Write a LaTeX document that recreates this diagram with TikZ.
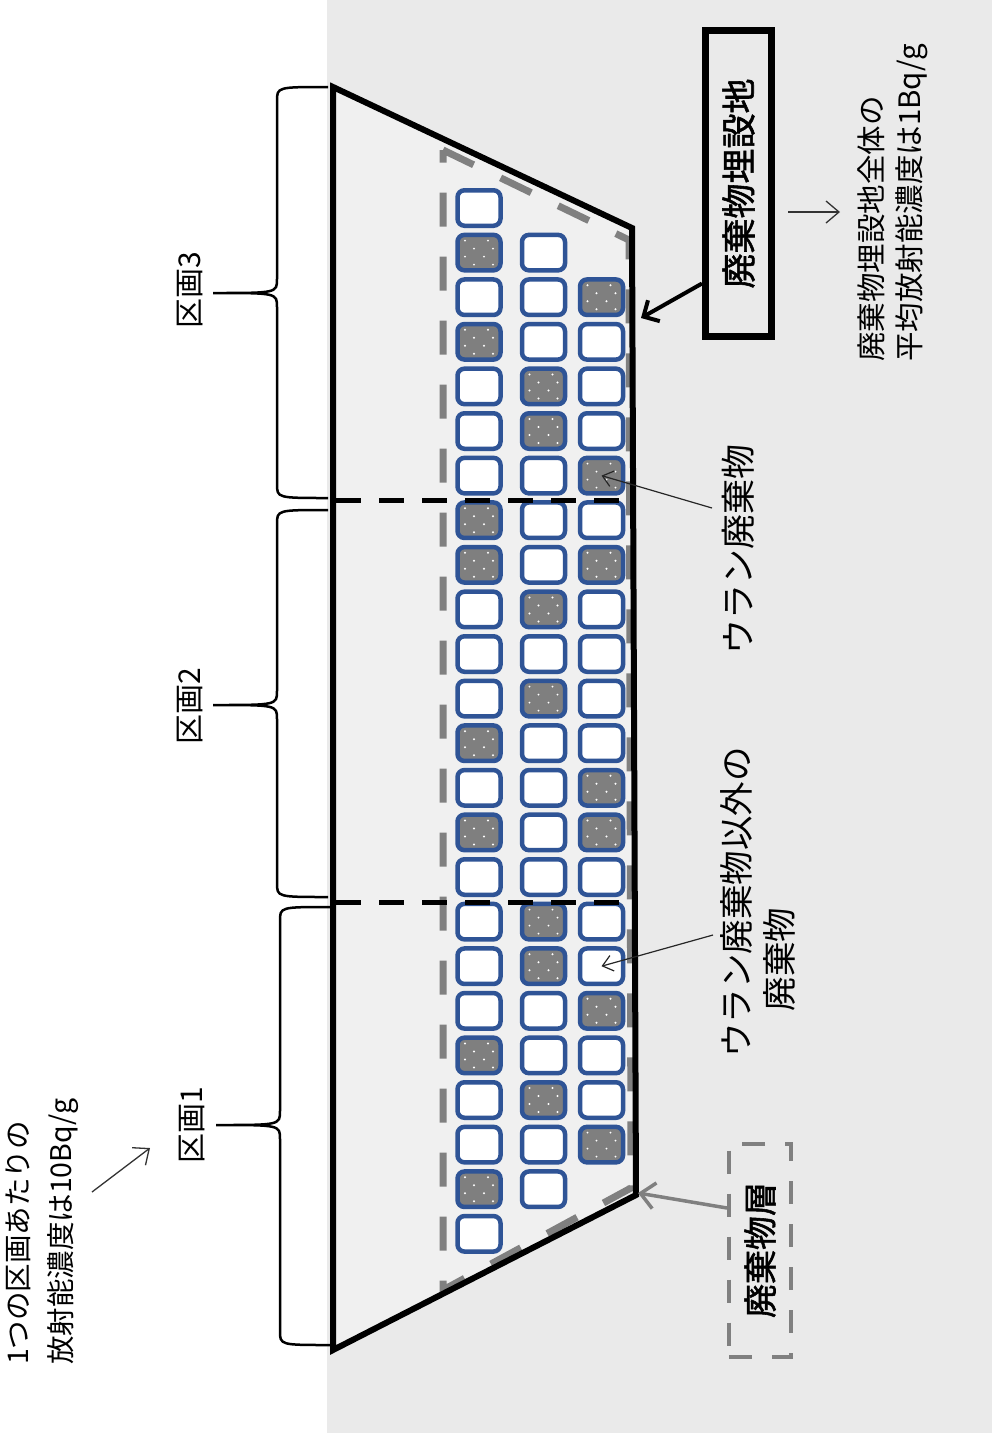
\documentclass[tikz,border=0pt]{standalone}
\usepackage{fontspec}
\setmainfont{Noto Sans CJK JP}
\newfontfamily\jpbold[FakeBold=1.6]{Noto Sans CJK JP}
\usetikzlibrary{arrows.meta}
\definecolor{cellblue}{RGB}{47,84,150}
\definecolor{cellgray}{RGB}{127,127,127}
\definecolor{dashgray}{RGB}{128,128,128}
\definecolor{bgout}{RGB}{234,234,234}
\definecolor{bgin}{RGB}{240,240,240}
\newcommand{\putcell}[4]{\if#4g\node[gcell] (#1) at (#2,{208+44.6*#3}) {};\else\node[wcell] (#1) at (#2,{208+44.6*#3}) {};\fi}
\newcommand{\mybrace}[6]{\draw[bracestyle] (#1,#4) .. controls (#2,#4) .. (#2,#4+14) -- (#2,#5-14) .. controls (#2,#5) .. (#3,#5) .. controls (#2,#5) .. (#2,#5+14) -- (#2,#6-14) .. controls (#2,#6) .. (#1,#6);}
\begin{document}
\begin{tikzpicture}[x=1pt,y=-1pt,
  txt/.style={inner sep=0pt, text=black},
  cellbase/.style={draw=cellblue, line width=4.5pt, rounded corners=7pt, minimum width=43pt, minimum height=35.5pt, inner sep=0pt},
  wcell/.style={cellbase, fill=white},
  gcell/.style={cellbase, fill=cellgray, path picture={
      \foreach \dx/\dy in {-14/-12, 9/-12, -5/-4, 14/-4, -14/4, 5/4, -5/12, 14/12}
        \fill[white] ([shift={(\dx,\dy)}]path picture bounding box.center) circle (1.1pt);}},
  bracestyle/.style={line width=2.5pt, black},
  thinarrow/.style={line width=1.3pt, draw=black!80, -{Straight Barb[length=13pt,width=22pt]}},
  smallarrow/.style={line width=1.2pt, draw=black!85, -{Straight Barb[length=10pt,width=16pt]}},
  boxarrow/.style={line width=4pt, draw=black, -{Straight Barb[length=12pt,width=24pt]}},
  grayarrow/.style={line width=3.5pt, draw=dashgray, -{Straight Barb[length=14pt,width=26pt]}}
]
\useasboundingbox (0,0) rectangle (992,1433);
% background
\fill[white] (0,0) rectangle (992,1433);
\fill[bgout] (327,0) rectangle (992,1433);
\fill[bgin] (333,87) -- (632,228) -- (636,1195) -- (333,1350) -- cycle;
% cells
\foreach \rw/\ty in {0/w,1/g,2/w,3/g,4/w,5/w,6/w,7/g,8/g,9/w,10/w,11/w,12/g,13/w,14/g,15/w,16/w,17/w,18/w,19/g,20/w,21/w,22/g,23/w}
  {\putcell{c1-\rw}{479}{\rw}{\ty}}
\foreach \rw/\ty in {1/w,2/w,3/w,4/g,5/g,6/w,7/w,8/w,9/g,10/w,11/g,12/w,13/w,14/w,15/w,16/g,17/g,18/w,19/w,20/g,21/w,22/w}
  {\putcell{c2-\rw}{543.5}{\rw}{\ty}}
\foreach \rw/\ty in {2/g,3/w,4/w,5/w,6/g,7/w,8/g,9/w,10/w,11/w,12/w,13/g,14/g,15/w,16/w,17/w,18/g,19/w,20/w,21/g}
  {\putcell{c3-\rw}{601.5}{\rw}{\ty}}
% waste layer (grey dashed)
\draw[dashgray, line width=7pt, dash pattern=on 34pt off 30pt] (443,150) -- (629,240) -- (631,1188) -- (443,1290) -- cycle;
% disposal site outline
\draw[line width=6pt, line join=miter] (333,87) -- (632,228) -- (636,1195) -- (333,1350) -- cycle;
% section dividers
\draw[line width=5pt, dash pattern=on 25pt off 18pt] (336,500) -- (632,500);
\draw[line width=5pt, dash pattern=on 25pt off 18pt] (336,902) -- (634,902);
% braces
\mybrace{328}{277}{213}{87}{293}{498}
\mybrace{328}{277}{213}{510}{705}{897}
\mybrace{330}{280}{216}{907}{1125}{1345}
% section labels
\node[txt, rotate=90, font=\fontsize{30}{30}\selectfont] (k3) at (190,290) {区画3};
\node[txt, rotate=90, font=\fontsize{30}{30}\selectfont] (k2) at (190,706) {区画2};
\node[txt, rotate=90, font=\fontsize{30}{30}\selectfont] (k1) at (192,1125) {区画1};
% left note
\node[txt, rotate=90, anchor=north west, align=left, font=\fontsize{28.5}{43}\selectfont] (lt) at (6,1365) {1つの区画あたりの\\放射能濃度は10Bq/g};
\coordinate (p1) at (92,1192);
\coordinate (p2) at (150,1148);
\draw[thinarrow] (p1) -- (p2);
% disposal site box
\node[draw, line width=7pt, minimum width=66pt, minimum height=306pt, inner sep=0pt, font=\jpbold\fontsize{35}{35}\selectfont] (box) at (738.5,183.5) {\rotatebox{90}{廃棄物埋設地}};
\coordinate (tz) at (641,318);
\draw[boxarrow] ([yshift=-100pt]box.west) -- (tz);
\coordinate (q1) at (788,212);
\coordinate (q2) at (840,212);
\draw[thinarrow] (q1) -- (q2);
\node[txt, rotate=90, anchor=north west, align=left, font=\fontsize{29.5}{38}\selectfont] (rt) at (857,362) {廃棄物埋設地全体の\\平均放射能濃度は1Bq/g};
% uranium waste labels
\node[txt, rotate=90, font=\fontsize{35}{35}\selectfont] (ut) at (738,549) {ウラン廃棄物};
\coordinate (u1) at (712,508);
\draw[smallarrow] (u1) -- (c3-6.center);
\node[txt, rotate=90, anchor=north west, align=left, font=\fontsize{34.5}{43}\selectfont] (ot) at (720,1058) {ウラン廃棄物以外の\\\hspace*{1.35em}廃棄物};
\coordinate (u2) at (713,935);
\draw[smallarrow] (u2) -- (c3-17.center);
% waste layer box
\node[draw=dashgray, line width=4pt, dash pattern=on 23pt off 20pt, minimum width=62pt, minimum height=213pt, inner sep=0pt, font=\jpbold\fontsize{34}{34}\selectfont] (wbox) at (760,1250) {\rotatebox{90}{廃棄物層}};
\coordinate (tz2) at (638,1193);
\draw[grayarrow] ([yshift=42pt]wbox.west) -- (tz2);
\end{tikzpicture}
\end{document}
